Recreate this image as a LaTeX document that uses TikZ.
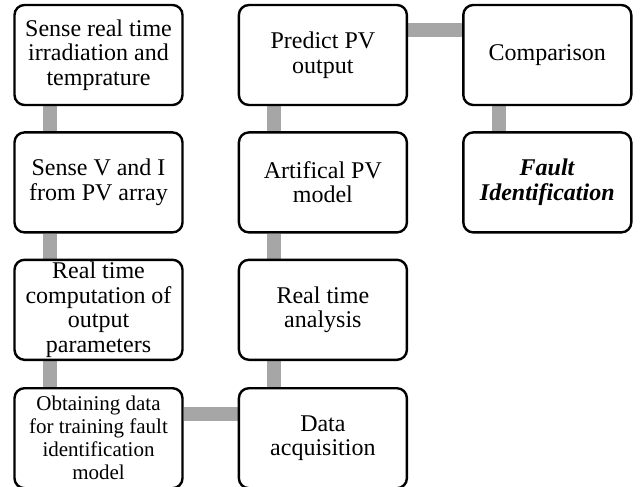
\documentclass[tikz,border=0pt]{standalone}
\usepackage{fontspec}
\setmainfont{Liberation Serif}
\usetikzlibrary{
  backgrounds,
  positioning
}
\definecolor{flowInk}{HTML}{000000}
\definecolor{flowBar}{HTML}{A6A6A6}
\tikzset{
  every node/.style={font=\fontsize{24}{24.5}\selectfont, text=flowInk},
  box/.style={
    rounded corners=10pt,
    draw=flowInk,
    line width=2.4pt,
    fill=white,
    minimum width=168pt,
    minimum height=100pt,
    inner sep=2pt,
    align=center
  },
  smallbox/.style={
    box,
    font=\fontsize{21}{23}\selectfont
  },
  bar/.style={
    line width=14pt,
    draw=flowBar
  }
}

\begin{document}
\begin{tikzpicture}[node distance=25pt and 54pt]
  \useasboundingbox (0,0) rectangle (640pt,-487pt);

  % left column
  \node[box] (sense) at (98.5pt,-55pt) {Sense real time\\irradiation and\\temprature};
  \node[box, below=of sense] (senseVI) {Sense V and I\\from PV array};
  \node[box, below=of senseVI] (compute) {Real time\\computation of\\output\\parameters};
  \node[smallbox, below=26pt of compute] (training) {Obtaining data\\for training fault\\identification\\model};

  % middle column
  \node[box, right=of sense] (predict) {Predict PV\\output};
  \node[box, below=of predict] (model) {Artifical PV\\model};
  \node[box, below=of model] (analysis) {Real time\\analysis};
  \node[box, below=26pt of analysis] (acquire) {Data\\acquisition};

  % right column
  \node[box, right=of predict] (compare) {Comparison};
  \node[box, below=of compare] (fault) {\textbf{\textit{Fault}}\\\textbf{\textit{Identification}}};

  \begin{scope}[on background layer]
    \draw[bar] ([xshift=-49pt]sense.south) -- ([xshift=-49pt]senseVI.north);
    \draw[bar] ([xshift=-49pt]senseVI.south) -- ([xshift=-49pt]compute.north);
    \draw[bar] ([xshift=-49pt]compute.south) -- ([xshift=-49pt]training.north);
    \draw[bar] ([yshift=24pt]training.east) -- ([yshift=24pt]acquire.west);
    \draw[bar] ([xshift=-49pt]acquire.north) -- ([xshift=-49pt]analysis.south);
    \draw[bar] ([xshift=-49pt]analysis.north) -- ([xshift=-49pt]model.south);
    \draw[bar] ([xshift=-49pt]model.north) -- ([xshift=-49pt]predict.south);
    \draw[bar] ([yshift=25pt]predict.east) -- ([yshift=25pt]compare.west);
    \draw[bar] ([xshift=-48pt]compare.south) -- ([xshift=-48pt]fault.north);
  \end{scope}
\end{tikzpicture}
\end{document}
